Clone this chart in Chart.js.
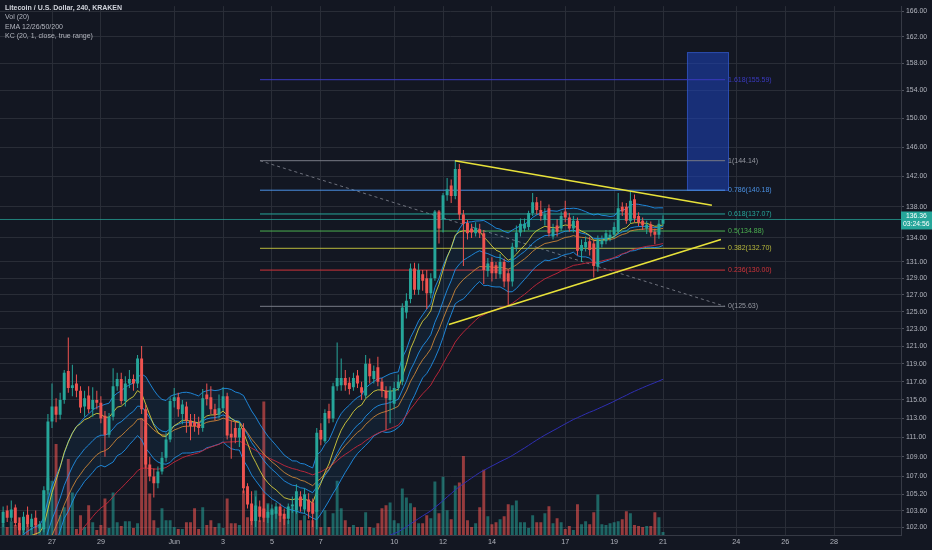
<!DOCTYPE html>
<html>
<head>
<meta charset="utf-8">
<title>Litecoin / U.S. Dollar, 240, KRAKEN</title>
<script src="https://cdn.jsdelivr.net/npm/chart.js@4.4.1/dist/chart.umd.min.js"></script>
<style>
html,body{margin:0;padding:0;background:#131722;overflow:hidden;}
#wrap{position:relative;width:932px;height:550px;}
canvas{display:block;}
</style>
</head>
<body>
<div id="wrap"><canvas id="chart"></canvas></div>
<script>
// ===== Data (4h candles, LTC/USD Kraken, 25 May -> 21 Jun) =====
const openP = [
102.4,103.6,102.9,103.9,102.4,101.7,103.2,102.0,102.9,101.9,
101.8,105.6,112.7,114.3,113.4,115.0,118.2,116.3,116.8,116.0,
114.3,115.5,114.0,115.0,114.7,113.3,111.3,113.2,116.5,117.3,
114.9,116.8,117.3,116.8,119.6,114.0,108.2,107.0,106.3,107.5,
108.9,110.8,114.9,115.3,113.5,114.3,112.8,112.6,112.5,112.0,
115.6,115.3,114.0,113.4,114.1,115.4,111.4,112.0,111.0,112.0,
106.0,104.3,102.6,104.0,103.8,102.9,103.2,103.3,104.0,103.3,
102.8,104.0,103.6,105.0,103.7,104.7,104.4,103.5,111.8,110.6,
113.8,113.0,116.5,116.6,117.4,116.9,116.4,117.7,116.4,115.5,
119.0,117.3,118.6,117.0,116.0,115.0,114.6,116.3,117.0,124.9,
126.5,130.2,127.6,129.5,129.0,127.2,129.0,137.4,136.4,139.5,
140.8,139.4,143.0,137.0,135.9,135.2,134.6,135.1,134.6,129.9,
131.0,130.6,129.5,131.0,129.6,128.6,132.8,134.7,135.2,135.4,
137.2,138.6,137.6,136.3,137.8,134.2,135.6,135.2,137.4,136.6,
135.2,136.2,132.4,132.8,133.6,133.3,130.4,133.2,133.6,134.0,
134.4,134.8,138.0,138.0,136.2,139.0,136.8,136.2,135.2,135.7,
134.8,134.4,135.8];
const highP = [
104.0,104.1,104.6,104.2,102.9,103.5,104.0,103.3,103.6,102.6,
106.0,113.5,116.8,115.2,115.8,118.3,122.0,118.9,117.8,116.5,
116.0,116.5,116.4,116.0,115.4,113.8,113.6,118.5,118.0,118.0,
117.6,118.3,117.8,120.0,121.0,114.5,109.0,107.8,108.0,109.5,
111.5,115.3,116.3,115.8,115.0,114.8,113.5,113.5,113.2,116.2,
116.8,116.5,114.6,115.6,116.4,115.8,112.8,112.7,112.6,112.5,
106.3,105.5,105.0,104.6,105.2,104.2,104.2,104.4,104.3,103.8,
104.3,105.0,106.2,105.5,105.8,105.3,104.8,112.0,112.5,114.0,
114.6,116.9,121.4,119.6,118.3,117.5,118.0,118.3,117.0,120.0,
119.6,118.8,119.8,117.4,116.5,116.5,117.0,117.8,126.0,127.2,
130.8,130.9,130.8,130.0,130.0,129.6,137.6,137.6,139.8,141.8,
141.6,144.14,143.7,137.6,136.3,135.8,136.0,135.8,135.0,131.5,
131.6,131.0,132.0,131.4,130.1,133.4,135.6,136.5,136.5,137.5,
139.8,139.3,138.8,137.8,138.3,135.8,136.4,137.4,138.8,137.2,
136.8,136.6,133.8,134.2,134.2,133.7,134.3,134.3,135.0,135.0,
136.0,139.8,138.6,138.5,140.0,139.6,137.3,136.6,136.2,136.1,
135.2,136.3,136.9];
const lowP = [
102.0,102.5,102.6,102.1,101.3,101.4,102.0,101.7,101.9,101.5,
101.5,105.2,112.0,112.6,112.9,114.6,115.8,115.4,115.3,113.6,
113.2,113.6,113.2,114.0,112.5,109.0,111.0,112.8,116.0,114.5,
114.3,116.3,116.0,116.3,113.5,107.8,106.5,104.9,105.8,107.2,
108.5,110.5,114.2,113.2,112.4,111.5,110.7,111.6,111.3,111.6,
114.4,113.5,112.8,113.0,113.8,110.8,108.8,110.4,110.0,105.3,
103.8,102.2,102.0,102.5,102.5,102.4,101.8,102.8,102.5,102.2,
102.3,103.4,103.3,103.5,103.3,102.8,102.0,101.8,110.2,110.4,
112.5,112.6,116.0,116.0,116.0,115.6,116.0,116.3,115.0,115.2,
116.8,116.8,116.5,115.3,111.8,112.5,114.0,116.0,116.6,124.2,
126.0,127.0,127.0,127.5,125.3,126.6,128.7,133.3,134.7,138.8,
138.5,139.0,136.3,130.5,133.8,134.0,134.2,134.0,128.3,129.2,
128.6,128.9,129.0,127.9,125.8,128.0,132.3,134.2,134.8,135.0,
136.8,137.0,136.2,135.6,134.2,133.8,134.2,134.9,136.0,134.8,
134.7,131.8,131.0,132.3,131.8,129.1,129.8,132.8,133.2,133.6,
134.0,134.5,136.8,135.8,135.9,136.0,135.5,135.0,134.5,134.2,
133.2,133.9,135.5];
const closeP = [
103.5,102.9,103.7,102.4,101.7,103.0,102.3,102.8,102.2,102.3,
105.6,112.7,114.3,113.4,115.0,118.0,116.3,116.6,116.0,114.2,
115.2,114.0,115.0,114.7,113.0,111.3,113.2,116.5,117.3,114.9,
116.8,117.3,116.8,119.6,114.0,108.2,107.0,106.3,107.5,108.9,
110.8,114.9,115.3,114.0,114.5,112.8,112.2,112.2,112.0,115.2,
115.1,114.0,113.4,114.1,115.4,111.2,111.0,111.0,112.0,105.8,
104.2,102.6,104.1,103.0,102.9,103.5,103.7,104.0,103.1,102.8,
104.0,104.2,105.5,104.0,105.2,103.5,103.3,111.5,110.8,113.6,
113.0,116.5,117.4,117.4,116.6,116.2,117.4,116.8,115.8,119.0,
117.6,118.2,117.0,116.0,115.2,116.0,116.3,117.0,125.5,126.3,
130.2,127.6,130.0,128.7,127.2,129.0,137.4,135.2,139.5,140.3,
139.4,143.0,137.0,135.8,134.6,134.7,135.3,134.6,130.0,130.8,
129.6,129.6,131.0,128.6,128.6,132.9,134.7,135.8,135.8,137.2,
138.6,137.6,136.8,137.0,134.6,135.2,134.8,136.8,136.6,135.2,
136.2,132.4,133.1,133.5,132.5,130.5,133.8,133.7,134.6,134.4,
135.4,137.8,137.4,136.2,138.8,136.5,136.0,135.6,135.7,134.7,
134.4,135.8,136.36];
const volume = [
12,8,14,10,18,9,14,7,12,8,
45,58,55,92,20,28,77,43,6,20,
8,30,13,5,10,37,7,43,13,9,
14,14,7,12,118,110,42,15,7,27,
15,15,8,6,6,13,13,27,6,28,
10,15,8,12,7,37,12,12,10,45,
18,17,45,15,135,32,27,24,22,18,
15,28,38,15,20,15,15,25,8,25,
8,22,55,27,15,8,10,8,8,23,
8,7,12,27,30,33,15,12,47,38,
32,28,12,12,20,17,54,22,59,25,
16,50,53,80,15,8,12,28,66,19,
11,13,16,19,31,30,35,13,13,7,
20,13,13,22,29,12,17,13,6,9,
5,31,11,14,11,23,41,11,10,12,
13,14,16,24,22,10,9,8,9,9,
23,18,3];

// time axis: days relative to 27 May 00:00, first candle 25 May 00:00, 4h bars
const firstCandleDay = -2;
const barsPerDay = 6;
const candleDays = openP.map((_, i) => firstCandleDay + i / barsPerDay);

const xTickDays = [0, 2, 5, 7, 9, 11, 14, 16, 18, 21, 23, 25, 28, 30, 32];
const xTickLabels = ['27', '29', 'Jun', '3', '5', '7', '10', '12', '14', '17', '19', '21', '24', '26', '28'];
const yTickValues = [166, 162, 158, 154, 150, 146, 142, 138, 134, 131, 129, 127, 125, 123, 121, 119, 117, 115, 113, 111, 109, 107, 105.2, 103.6, 102];

// indicators (EMA 12/26/50/200, KC 20 / 1 / true range) with starting values
const emaPeriods = [12, 26, 50, 200];
const emaStartValues = [97, 94, 91.5, 85];
const kcLength = 20, kcMult = 1;
const kcStartBasis = 95, kcStartRange = 3.5;

// drawings
const fibLevels = ['0', '0.236', '0.382', '0.5', '0.618', '0.786', '1', '1.618'];
const fibPrices = [125.63, 130.00, 132.70, 134.88, 137.07, 140.18, 144.14, 155.59];
const fibDays = [8.51, 27.54];
const triangleUpper = [[16.49, 144.14], [27.0, 138.2]];
const triangleLower = [[16.24, 123.5], [27.37, 133.8]];
const targetBoxDays = [25.98, 27.70];
const targetBoxPrices = [140.1, 159.7];
const lastPrice = 136.36;
const countdown = '03:24:56';
const legendLines = ['Litecoin / U.S. Dollar, 240, KRAKEN', 'Vol (20)', 'EMA 12/26/50/200', 'KC (20, 1, close, true range)'];

// ===== styling =====
const BG = '#131722';
const GRID = 'rgba(42,46,57,0.95)';
const TEXT = '#b2b5be';
const UP = '#26a69a', DOWN = '#ef5350';
const UPV = 'rgba(38,166,154,0.55)', DOWNV = 'rgba(239,83,80,0.6)';
const FONT = '"Liberation Sans", Arial, sans-serif';
const emaColors = ['rgba(225,215,60,0.85)', 'rgba(215,140,55,0.85)', 'rgba(200,40,60,0.9)', 'rgba(48,48,185,0.95)'];
const kcColor = 'rgba(33,150,243,0.85)';
const fibColors = ['#787b86', '#d0343a', '#b8b83c', '#4caf50', '#26a69a', '#4a90e2', '#787b86', '#3a3ac0'];

const xMin = -2.1277, xMax = 34.738;
const yMin = 101.242, yMax = 166.776;

// ===== indicator calc =====
function emaSeries(values, period, start) {
  const k = 2 / (period + 1);
  let e = start;
  return values.map(v => (e += k * (v - e)));
}
const trueRange = highP.map((h, i) => i === 0 ? h - lowP[i] :
  Math.max(h - lowP[i], Math.abs(h - closeP[i - 1]), Math.abs(lowP[i] - closeP[i - 1])));
const kcBasis = emaSeries(closeP, kcLength, kcStartBasis);
const kcRange = emaSeries(trueRange, kcLength, kcStartRange);
const kcUpper = kcBasis.map((b, i) => b + kcMult * kcRange[i]);
const kcLower = kcBasis.map((b, i) => b - kcMult * kcRange[i]);
const emas = emaPeriods.map((p, k) => emaSeries(closeP, p, emaStartValues[k]));

const pts = arr => arr.map((v, i) => ({x: candleDays[i], y: v}));
const isUp = i => closeP[i] >= openP[i];

const datasets = [];
// volume
datasets.push({type: 'bar', label: 'Vol', yAxisID: 'yv', order: 30, grouped: false, maxBarThickness: 3,
  data: volume.map((v, i) => ({x: candleDays[i], y: v})),
  backgroundColor: volume.map((_, i) => isUp(i) ? UPV : DOWNV), borderWidth: 0});
// KC
const kcUpperIdx = datasets.length;
datasets.push({type: 'line', label: 'KC upper', data: pts(kcUpper), borderColor: kcColor, borderWidth: 1, pointRadius: 0, order: 20,
  fill: {target: kcUpperIdx + 2}, backgroundColor: 'rgba(33,150,243,0.07)'});
datasets.push({type: 'line', label: 'KC basis', data: pts(kcBasis), borderColor: kcColor, borderWidth: 1, pointRadius: 0, order: 20, fill: false});
datasets.push({type: 'line', label: 'KC lower', data: pts(kcLower), borderColor: kcColor, borderWidth: 1, pointRadius: 0, order: 20, fill: false});
// EMAs
emas.forEach((s, k) => datasets.push({type: 'line', label: 'EMA ' + emaPeriods[k], data: pts(s), borderColor: emaColors[k],
  borderWidth: 1, pointRadius: 0, order: 15, fill: false}));
// fib levels
fibPrices.forEach((p, k) => datasets.push({type: 'line', label: 'fib ' + fibLevels[k],
  data: [{x: fibDays[0], y: p}, {x: fibDays[1], y: p}], borderColor: fibColors[k], borderWidth: 1, pointRadius: 0, order: 25, fill: false}));
// fib trend (dashed)
datasets.push({type: 'line', label: 'fib trend', data: [{x: fibDays[0], y: fibPrices[6]}, {x: fibDays[1], y: fibPrices[0]}],
  borderColor: 'rgba(120,123,134,0.9)', borderWidth: 1, borderDash: [3, 3], pointRadius: 0, order: 25, fill: false});
// last price line
datasets.push({type: 'line', label: 'last', data: [{x: xMin, y: lastPrice}, {x: xMax, y: lastPrice}],
  borderColor: 'rgba(38,166,154,0.75)', borderWidth: 1, pointRadius: 0, order: 26, fill: false});
// candles
datasets.push({type: 'bar', label: 'wick', order: 2, grouped: false, maxBarThickness: 1,
  data: candleDays.map((d, i) => ({x: d, y: [lowP[i], highP[i]]})),
  backgroundColor: openP.map((_, i) => isUp(i) ? UP : DOWN), borderWidth: 0});
datasets.push({type: 'bar', label: 'body', order: 1, grouped: false, maxBarThickness: 3, minBarLength: 1,
  data: candleDays.map((d, i) => ({x: d, y: [openP[i], closeP[i]]})),
  backgroundColor: openP.map((_, i) => isUp(i) ? UP : DOWN), borderWidth: 0});
// triangle
[triangleUpper, triangleLower].forEach((ln, k) => datasets.push({type: 'line', label: 'tri' + k,
  data: ln.map(p => ({x: p[0], y: p[1]})), borderColor: '#e8e23a', borderWidth: 1.6, pointRadius: 0, order: 0, fill: false}));

const bgPlugin = {
  id: 'bg',
  beforeDraw(chart) {
    const c = chart.ctx;
    c.save(); c.fillStyle = BG; c.fillRect(0, 0, chart.width, chart.height); c.restore();
  }
};
const boxPlugin = {
  id: 'box',
  beforeDatasetsDraw(chart) {
    const xs = chart.scales.x, ys = chart.scales.y, c = chart.ctx;
    const x1 = xs.getPixelForValue(targetBoxDays[0]), x2 = xs.getPixelForValue(targetBoxDays[1]);
    const y1 = ys.getPixelForValue(targetBoxPrices[1]), y2 = ys.getPixelForValue(targetBoxPrices[0]);
    c.save();
    c.fillStyle = 'rgba(30,68,190,0.55)';
    c.fillRect(x1, y1, x2 - x1, y2 - y1);
    c.strokeStyle = 'rgba(60,100,220,0.55)'; c.lineWidth = 1;
    c.strokeRect(x1 + 0.5, y1 + 0.5, x2 - x1 - 1, y2 - y1 - 1);
    c.restore();
  }
};
const labelPlugin = {
  id: 'labels',
  afterDraw(chart) {
    const xs = chart.scales.x, ys = chart.scales.y, c = chart.ctx;
    c.save();
    // fib labels
    c.font = '7px ' + FONT;
    c.textAlign = 'left'; c.textBaseline = 'middle';
    const lx = xs.getPixelForValue(fibDays[1]) + 3;
    fibPrices.forEach((p, k) => {
      c.fillStyle = fibColors[k] === '#787b86' ? '#9598a1' : fibColors[k];
      c.fillText(fibLevels[k] + '(' + p.toFixed(2) + ')', lx, ys.getPixelForValue(p));
    });
    // last price tag
    const py = ys.getPixelForValue(lastPrice);
    const ax = chart.chartArea.right;
    c.fillStyle = UP;
    c.fillRect(ax, py - 8, chart.width - ax, 18);
    c.fillStyle = '#ffffff';
    c.font = '6.8px ' + FONT;
    c.textAlign = 'left';
    c.fillText(lastPrice.toFixed(2), ax + 5, py - 3.5);
    c.fillText(countdown, ax + 2, py + 4.8);
    // legend
    c.textBaseline = 'middle';
    legendLines.forEach((t, k) => {
      c.font = (k === 0 ? 'bold 7px ' : '7px ') + FONT;
      c.fillStyle = k === 0 ? '#d1d4dc' : TEXT;
      c.fillText(t, 5, 8 + k * 9.3);
    });
    c.restore();
  }
};

new Chart(document.getElementById('chart'), {
  type: 'line',
  data: {datasets},
  options: {
    responsive: true,
    maintainAspectRatio: false,
    animation: false,
    events: [],
    layout: {padding: 0},
    plugins: {legend: {display: false}, tooltip: {enabled: false}},
    scales: {
      x: {
        type: 'linear', min: xMin, max: xMax, bounds: 'data', offset: false,
        afterBuildTicks: s => { s.ticks = xTickDays.map(v => ({value: v})); },
        afterFit: s => { s.height = 15; },
        ticks: {autoSkip: false, maxRotation: 0, color: TEXT, padding: 3, font: {size: 7.2, family: FONT},
          callback: (v, i) => xTickLabels[i]},
        grid: {color: GRID, drawTicks: false, offset: false},
        border: {display: true, color: '#363a45'}
      },
      y: {
        type: 'logarithmic', position: 'right', min: yMin, max: yMax, bounds: 'data', offset: false,
        afterBuildTicks: s => { s.ticks = yTickValues.map(v => ({value: v})); },
        afterFit: s => { s.width = 31; },
        ticks: {autoSkip: false, color: TEXT, padding: 2, font: {size: 6.9, family: FONT},
          callback: v => Number(v).toFixed(2)},
        grid: {color: GRID, drawTicks: true, tickLength: 3, tickColor: '#50535e'},
        border: {display: true, color: '#363a45'}
      },
      yv: {type: 'linear', display: false, min: 0, max: 535, offset: false}
    }
  },
  plugins: [bgPlugin, boxPlugin, labelPlugin]
});
</script>
</body>
</html>
